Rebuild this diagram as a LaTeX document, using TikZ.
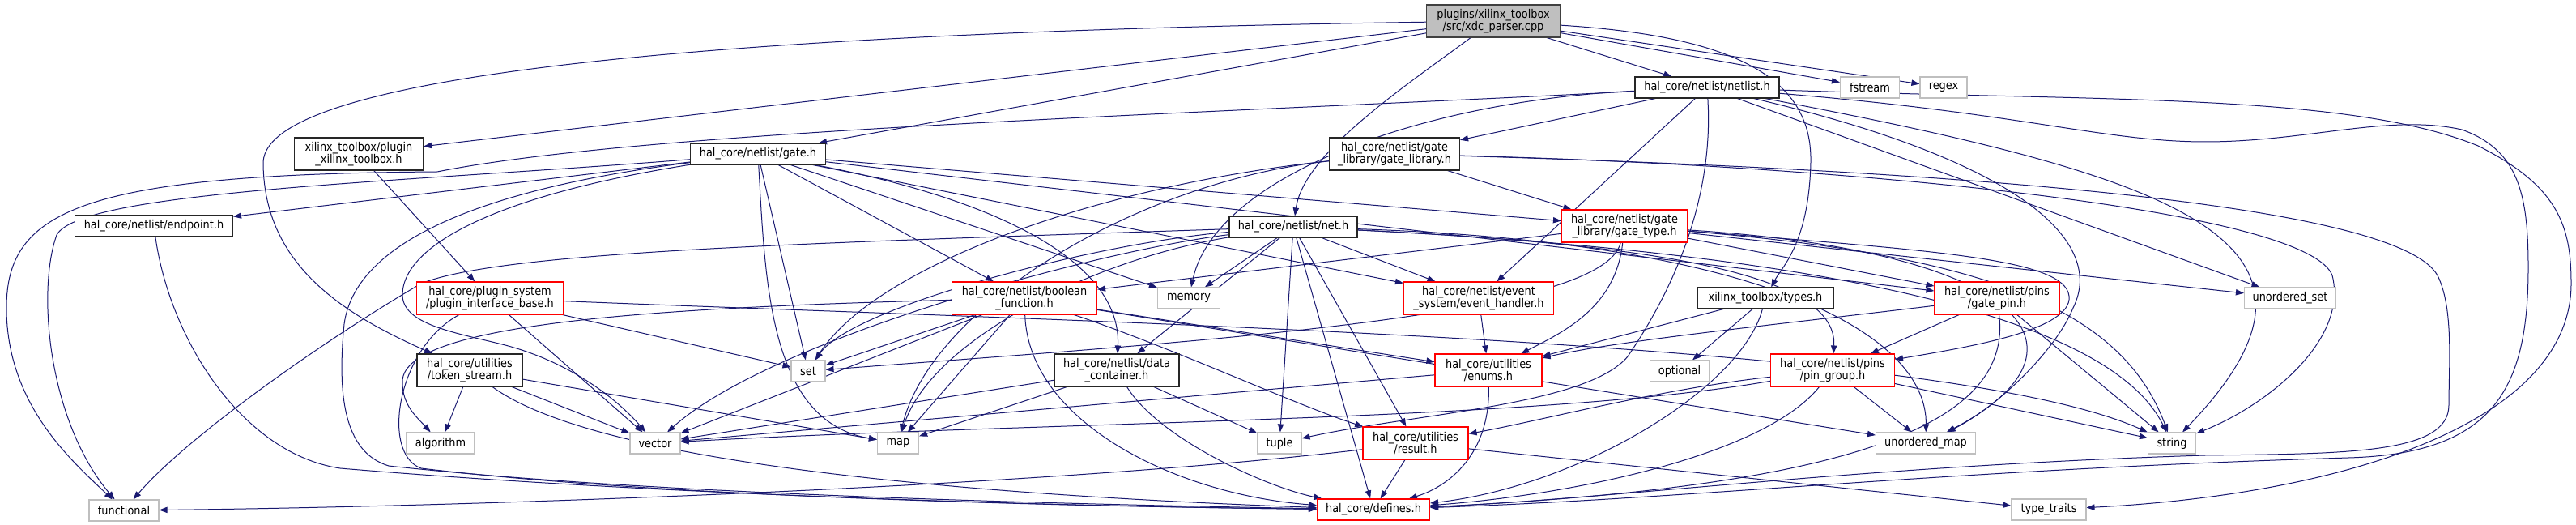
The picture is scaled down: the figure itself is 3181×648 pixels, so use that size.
\documentclass[tikz,border=0pt]{standalone}
\usepackage{fontspec}
\setmainfont{DejaVu Sans}[FakeStretch=0.88]
\usetikzlibrary{arrows.meta}
\definecolor{edgeblue}{HTML}{191970}
\definecolor{sysgray}{HTML}{BFBFBF}
\definecolor{nodegray}{HTML}{262626}
\pgfdeclarelayer{background}
\pgfsetlayers{background,main}
\tikzset{
  box/.style={draw=nodegray, fill=white, line width=0.85pt, inner sep=0pt, align=center,
    font=\fontsize{11}{11.4}\selectfont, minimum height=19.5pt},
  tall/.style={minimum height=30pt},
  redbox/.style={box, draw=red},
  sysbox/.style={box, draw=sysgray},
  rootbox/.style={box, fill=sysgray, draw=black!75},
  edge/.style={draw=edgeblue, line width=0.75pt, -{Triangle[length=7.5pt,width=5.5pt]}}
}
\begin{document}
\begin{tikzpicture}[x=0.75pt,y=-0.75pt]
\useasboundingbox (0,0) rectangle (3181,648);
% row 0
\node[rootbox,tall,minimum width=123.75pt] (nroot) at (1844,26) {plugins/xilinx\_toolbox\\/src/xdc\_parser.cpp};
% row 1
\node[box,minimum width=133.5pt] (nnetlist) at (2108,108) {hal\_core/netlist/netlist.h};
\node[sysbox,minimum width=54.75pt] (nfstream) at (2309,108) {fstream};
\node[sysbox,minimum width=43.5pt] (nregex) at (2400,108) {regex};
% row 2
\node[box,tall,minimum width=119.25pt] (nxplugin) at (443,190) {xilinx\_toolbox/plugin\\\_xilinx\_toolbox.h};
\node[box,minimum width=125.25pt] (ngate) at (936,190) {hal\_core/netlist/gate.h};
\node[box,tall,minimum width=120.75pt] (nglib) at (1722,190) {hal\_core/netlist/gate\\\_library/gate\_library.h};
% row 3
\node[box,minimum width=146.25pt] (nendpoint) at (190,279) {hal\_core/netlist/endpoint.h};
\node[box,minimum width=118.5pt] (nnet) at (1597,280) {hal\_core/netlist/net.h};
\node[redbox,tall,minimum width=116.25pt] (ngtype) at (2006,279) {hal\_core/netlist/gate\\\_library/gate\_type.h};
% row 4
\node[redbox,tall,minimum width=135.75pt] (npib) at (605,368) {hal\_core/plugin\_system\\/plugin\_interface\_base.h};
\node[redbox,tall,minimum width=134.25pt] (nbfunc) at (1265,368) {hal\_core/netlist/boolean\\\_function.h};
\node[sysbox,minimum width=57.75pt] (nmemory) at (1468,368) {memory};
\node[redbox,tall,minimum width=138.75pt] (nevh) at (1826,368) {hal\_core/netlist/event\\\_system/event\_handler.h};
\node[box,minimum width=126pt] (ntypes) at (2180,368) {xilinx\_toolbox/types.h};
\node[redbox,tall,minimum width=115.5pt] (ngpin) at (2466,368) {hal\_core/netlist/pins\\/gate\_pin.h};
\node[sysbox,minimum width=84.75pt] (nuset) at (2828,368) {unordered\_set};
% row 5
\node[box,tall,minimum width=97.5pt] (ntstream) at (580,457) {hal\_core/utilities\\/token\_stream.h};
\node[sysbox,minimum width=31.5pt] (nset) at (998,458) {set};
\node[box,tall,minimum width=115.5pt] (ndcont) at (1379,457) {hal\_core/netlist/data\\\_container.h};
\node[redbox,tall,minimum width=99pt] (nenums) at (1838,457) {hal\_core/utilities\\/enums.h};
\node[sysbox,minimum width=54.75pt] (noptional) at (2074,458) {optional};
\node[redbox,tall,minimum width=114.75pt] (npgroup) at (2263,457) {hal\_core/netlist/pins\\/pin\_group.h};
% row 6
\node[sysbox,minimum width=63pt] (nalgorithm) at (544,547) {algorithm};
\node[sysbox,minimum width=46.5pt] (nvector) at (809,547) {vector};
\node[sysbox,minimum width=38.25pt] (nmap) at (1109,547) {map};
\node[sysbox,minimum width=40.5pt] (ntuple) at (1580,547) {tuple};
\node[redbox,tall,minimum width=97.5pt] (nresult) at (1748,547) {hal\_core/utilities\\/result.h};
\node[sysbox,minimum width=92.25pt] (numap) at (2378,547) {unordered\_map};
\node[sysbox,minimum width=44.25pt] (nstring) at (2682,547) {string};
% row 7
\node[sysbox,minimum width=64.5pt] (nfunctional) at (153,630) {functional};
\node[redbox,minimum width=104.25pt] (ndefines) at (1696,629) {hal\_core/defines.h};
\node[sysbox,minimum width=69pt] (ntraits) at (2530,629) {type\_traits};

\begin{pgfonlayer}{background}
% ---- root
\draw[edge] (nroot) -- (nxplugin);
\draw[edge] (nroot) -- (ngate);
\draw[edge] (nroot) .. controls (1730,110) and (1610,190) .. (nnet);
\draw[edge] (nroot) -- (nnetlist);
\draw[edge] (nroot) .. controls (900,40) and (330,90) .. (325,200) .. controls (325,330) and (430,390) .. (ntstream);
\draw[edge] (nroot) .. controls (2150,45) and (2238,100) .. (2236,200) .. controls (2234,300) and (2200,330) .. (ntypes);
\draw[edge] (nroot) -- (nfstream);
\draw[edge] (nroot) -- (nregex);
% ---- netlist
\draw[edge] (nnetlist) .. controls (1500,140) and (800,160) .. (540,212) .. controls (100,215) and (8,260) .. (8,380) .. controls (8,500) and (90,570) .. (nfunctional);
\draw[edge] (nnetlist) -- (nglib);
\draw[edge] (nnetlist) .. controls (1750,125) and (1500,220) .. (nmemory);
\draw[edge] (nnetlist) -- (nevh);
\draw[edge] (nnetlist) -- (nuset);
\draw[edge] (nnetlist) .. controls (2700,220) and (2920,300) .. (nstring);
\draw[edge] (nnetlist) .. controls (2500,200) and (2600,300) .. (2560,380) .. controls (2540,430) and (2470,500) .. (numap);
\draw[edge] (nnetlist) .. controls (2500,140) and (2600,175) .. (2723,175) .. controls (2850,175) and (2950,140) .. (3040,160) .. controls (3110,185) and (3122,240) .. (3122,330) .. controls (3122,480) and (3080,560) .. (2900,565) .. controls (2400,580) and (2100,615) .. (ndefines);
\draw[edge] (nnetlist) .. controls (2600,125) and (2900,115) .. (3060,180) .. controls (3160,230) and (3175,280) .. (3175,350) .. controls (3175,520) and (2900,610) .. (ntraits);
\draw[edge] (nnetlist) .. controls (2115,220) and (2085,330) .. (2010,440) .. controls (1960,500) and (1750,510) .. (ntuple);
% ---- gate
\draw[edge] (ngate) .. controls (500,225) and (100,235) .. (70,290) .. controls (45,360) and (60,520) .. (nfunctional);
\draw[edge] (ngate) -- (nendpoint);
\draw[edge] (ngate) -- (ngtype);
\draw[edge] (ngate) -- (nbfunc);
\draw[edge] (ngate) -- (nmemory);
\draw[edge] (ngate) -- (nevh);
\draw[edge] (ngate) -- (nset);
\draw[edge] (ngate) .. controls (620,240) and (500,300) .. (497,362) .. controls (495,400) and (560,410) .. (620,425) .. controls (700,445) and (760,490) .. (nvector);
\draw[edge] (ngate) .. controls (620,230) and (440,290) .. (425,400) .. controls (415,500) and (430,560) .. (480,575) .. controls (800,610) and (1300,622) .. (ndefines);
\draw[edge] (ngate) .. controls (945,350) and (950,520) .. (nmap);
\draw[edge] (ngate) .. controls (1250,250) and (1385,330) .. (ndcont);
\draw[edge] (ngate) -- (ngpin);
% ---- endpoint
\draw[edge] (nendpoint) .. controls (210,420) and (300,560) .. (420,578) .. controls (800,610) and (1300,625) .. (ndefines);
% ---- gate_library
\draw[edge] (nglib) -- (ngtype);
\draw[edge] (nglib) .. controls (1350,230) and (1080,330) .. (nset);
\draw[edge] (nglib) .. controls (1400,225) and (1150,380) .. (nmap);
\draw[edge] (nglib) .. controls (2300,205) and (2850,260) .. (2880,340) .. controls (2900,420) and (2800,500) .. (nstring);
\draw[edge] (nglib) .. controls (2400,210) and (2960,250) .. (3010,340) .. controls (3030,380) and (3024,450) .. (3024,500) .. controls (3024,560) and (2900,560) .. (2723,562) .. controls (2300,575) and (2000,615) .. (ndefines);
% ---- net
\draw[edge] (nnet) .. controls (1000,300) and (620,310) .. (520,350) .. controls (400,420) and (230,540) .. (nfunctional);
\draw[edge] (nnet) -- (nmemory);
\draw[edge] (nnet) -- (nevh);
\draw[edge] (nnet) .. controls (1350,300) and (1050,380) .. (nset);
\draw[edge] (nnet) .. controls (1350,310) and (950,420) .. (nvector);
\draw[edge] (nnet) .. controls (1350,320) and (1150,420) .. (nmap);
\draw[edge] (nnet) -- (ndcont);
\draw[edge] (nnet) -- (ntuple);
\draw[edge] (nnet) -- (ndefines);
\draw[edge] (nnet) -- (nresult);
\draw[edge] (nnet) .. controls (2000,300) and (2270,330) .. (npgroup);
\draw[edge] (nnet) .. controls (2200,310) and (2600,380) .. (nstring);
\draw[edge] (nnet) .. controls (2200,300) and (2380,420) .. (numap);
% ---- gate_type
\draw[edge] (ngtype) -- (nbfunc);
\draw[edge] (ngtype) .. controls (1980,390) and (1500,420) .. (nset);
\draw[edge] (ngtype) .. controls (1995,380) and (1930,410) .. (nenums);
\draw[edge] (ngtype) -- (ngpin);
\draw[edge] (ngtype) .. controls (2400,310) and (2560,320) .. (2555,370) .. controls (2550,410) and (2420,430) .. (npgroup);
\draw[edge] (ngtype) .. controls (2450,315) and (2620,380) .. (nstring);
\draw[edge] (ngtype) .. controls (2500,310) and (2600,430) .. (numap);
\draw[edge] (ngtype) -- (nuset);
% ---- xilinx plugin
\draw[edge] (nxplugin) -- (npib);
% ---- plugin_interface_base
\draw[edge] (npib) -- (nset);
\draw[edge] (npib) -- (nvector);
\draw[edge] (npib) .. controls (1400,400) and (2400,420) .. (nstring);
\draw[edge] (npib) .. controls (490,430) and (470,560) .. (520,578) .. controls (800,612) and (1300,625) .. (ndefines);
% ---- token_stream
\draw[edge] (ntstream) -- (nalgorithm);
\draw[edge] (ntstream) -- (nvector);
\draw[edge] (ntstream) -- (nmap);
\draw[edge] (ntstream) .. controls (680,530) and (900,600) .. (ndefines);
% ---- boolean_function
\draw[edge] (nbfunc) .. controls (800,380) and (500,400) .. (497,470) .. controls (496,500) and (515,515) .. (nalgorithm);
\draw[edge] (nbfunc) -- (nset);
\draw[edge] (nbfunc) -- (nvector);
\draw[edge] (nbfunc) -- (nmap);
\draw[edge] (nbfunc) .. controls (1270,520) and (1450,610) .. (ndefines);
\draw[edge] (nbfunc) .. controls (1450,430) and (1600,500) .. (nresult);
\draw[edge] (nbfunc) -- (nenums);
\draw[edge] (nbfunc) -- (numap);
% ---- event handler
\draw[edge] (nevh) -- (nenums);
% ---- data container
\draw[edge] (ndcont) -- (nvector);
\draw[edge] (ndcont) -- (nmap);
\draw[edge] (ndcont) -- (ntuple);
\draw[edge] (ndcont) .. controls (1430,540) and (1560,600) .. (ndefines);
% ---- enums
\draw[edge] (nenums) -- (nvector);
\draw[edge] (nenums) .. controls (1840,560) and (1790,600) .. (ndefines);
% ---- types
\draw[edge] (ntypes) -- (noptional);
\draw[edge] (ntypes) -- (nenums);
\draw[edge] (ntypes) .. controls (2150,480) and (1950,600) .. (ndefines);
% ---- gate_pin
\draw[edge] (ngpin) -- (npgroup);
\draw[edge] (ngpin) -- (nstring);
\draw[edge] (ngpin) .. controls (2485,520) and (2300,600) .. (ndefines);
\draw[edge] (ngpin) .. controls (2200,400) and (2000,420) .. (nenums);
% ---- pin_group
\draw[edge] (npgroup) -- (numap);
\draw[edge] (npgroup) -- (nstring);
\draw[edge] (npgroup) .. controls (2050,480) and (1900,520) .. (nresult);
\draw[edge] (npgroup) .. controls (1900,520) and (1300,520) .. (nvector);
\draw[edge] (npgroup) .. controls (2180,560) and (1950,610) .. (ndefines);
% ---- result
\draw[edge] (nresult) .. controls (1300,600) and (600,625) .. (nfunctional);
\draw[edge] (nresult) -- (ndefines);
\draw[edge] (nresult) -- (ntraits);
\end{pgfonlayer}
\end{tikzpicture}
\end{document}
